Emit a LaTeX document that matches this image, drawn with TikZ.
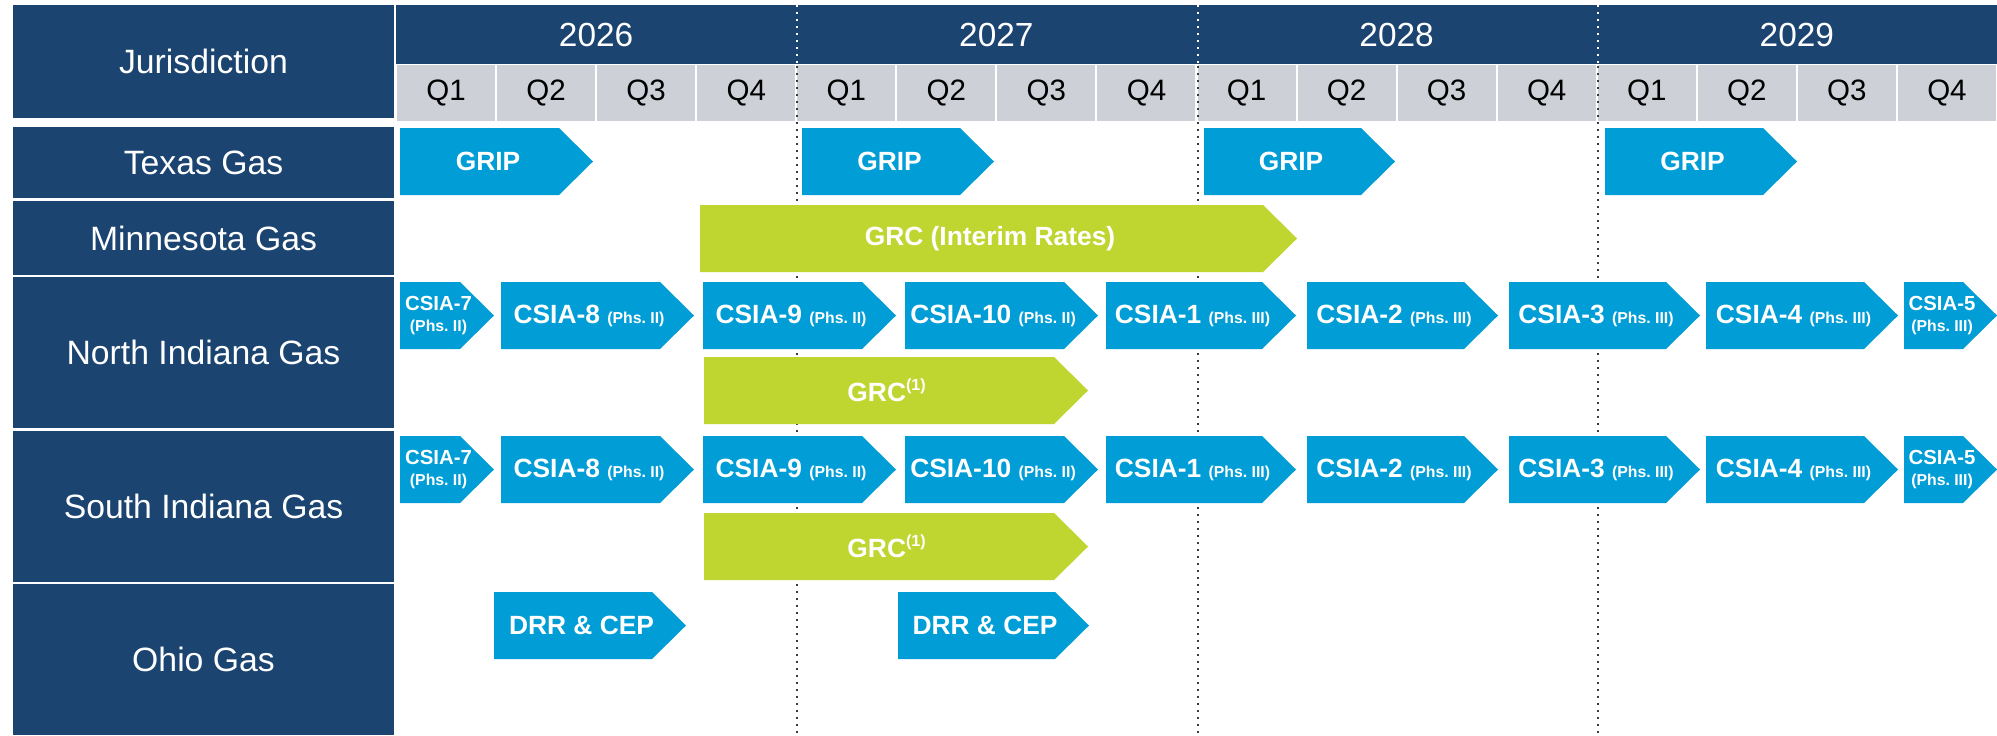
\documentclass[tikz,border=0pt]{standalone}
\usepackage{fontspec}
\setmainfont{Liberation Sans}
\definecolor{navyhead}{HTML}{1B4471}
\definecolor{barblue}{HTML}{009DD6}
\definecolor{bargreen}{HTML}{BFD630}
\definecolor{qgrey}{HTML}{CDD0D7}
\definecolor{divgrey}{HTML}{3C3C3C}
\newcommand{\phs}[1]{{\fontsize{4.5}{5}\selectfont(Phs.~#1)}}
\newcommand{\smlbl}{\fontsize{5.8}{6}\selectfont}
% name, colour, left x, tip x, top y, bottom y, label
\newcommand{\phasebar}[7]{%
  \fill[#2] (#3,#5) -- ({#4-34},#5) -- (#4,{(#5+#6)/2}) -- ({#4-34},#6) -- (#3,#6) -- cycle;
  \node[bartext] (#1) at ({(#3+#4-17)/2},{(#5+#6)/2}) {#7};}

\begin{document}
\begin{tikzpicture}[x=0.1mm, y=-0.1mm,
    rowhead/.style={fill=navyhead, text=white, minimum width=38.1mm, inner sep=0,
                    font=\fontsize{9.6}{11}\selectfont},
    yeartext/.style={text=white, inner sep=0, font=\fontsize{9.5}{11}\selectfont},
    qcell/.style={fill=qgrey, minimum width=9.8mm, minimum height=5.6mm, inner sep=0,
                  font=\fontsize{8.4}{10}\selectfont},
    bartext/.style={text=white, align=center, inner sep=0,
                    font=\bfseries\fontsize{7.5}{9}\selectfont},
    yeardiv/.style={divgrey, line width=0.2mm, dash pattern=on 0.2mm off 0.5mm}]
  \useasboundingbox[fill=white] (0,0) rectangle (1997,735);

  % jurisdiction column
  \node[rowhead, minimum height=11.3mm] (jur) at (203.5,61.5) {Jurisdiction};
  \node[rowhead, minimum height=7.1mm] (texas) at (203.5,162.5) {Texas Gas};
  \node[rowhead, minimum height=7.4mm] (minn) at (203.5,238) {Minnesota Gas};
  \node[rowhead, minimum height=15.1mm] (nind) at (203.5,352.5) {North Indiana Gas};
  \node[rowhead, minimum height=15.1mm] (sind) at (203.5,506.5) {South Indiana Gas};
  \node[rowhead, minimum height=15.1mm] (ohio) at (203.5,659.5) {Ohio Gas};

  % years and quarters
  \fill[navyhead] (396,5) rectangle (1997,64);
  \foreach \yr [count=\i from 0] in {2026,2027,2028,2029}
    \node[yeartext] (y\yr) at ({396+(4*\i+2)*100.06},35) {\yr};
  \foreach \k in {0,...,15} {
    \pgfmathtruncatemacro\qn{mod(\k,4)+1}
    \node[qcell] (q\k) at ({396+(\k+0.5)*100.06},93) {Q\qn};
  }
  \foreach \x in {797,1198,1598} {
    \draw[yeardiv, white] (\x,5) -- (\x,64);
    \draw[yeardiv] (\x,66) -- (\x,735);
  }

  % Texas
  \phasebar{gripA}{barblue}{400}{593}{128}{195}{GRIP}
  \phasebar{gripB}{barblue}{802}{994}{128}{195}{GRIP}
  \phasebar{gripC}{barblue}{1204}{1395}{128}{195}{GRIP}
  \phasebar{gripD}{barblue}{1605}{1797}{128}{195}{GRIP}
  % Minnesota
  \phasebar{grcmn}{bargreen}{700}{1297}{205}{272}{GRC (Interim Rates)}
  % North Indiana
  \phasebar{ncsiaA}{barblue}{400}{494}{282}{349}{\smlbl CSIA-7\\[-3pt]\phs{II}}
  \phasebar{ncsiaB}{barblue}{501}{694}{282}{349}{CSIA-8 \phs{II}}
  \phasebar{ncsiaC}{barblue}{703}{896}{282}{349}{CSIA-9 \phs{II}}
  \phasebar{ncsiaD}{barblue}{905}{1098}{282}{349}{CSIA-10 \phs{II}}
  \phasebar{ncsiaE}{barblue}{1106}{1296}{282}{349}{CSIA-1 \phs{III}}
  \phasebar{ncsiaF}{barblue}{1307}{1498}{282}{349}{CSIA-2 \phs{III}}
  \phasebar{ncsiaG}{barblue}{1509}{1700}{282}{349}{CSIA-3 \phs{III}}
  \phasebar{ncsiaH}{barblue}{1706}{1898}{282}{349}{CSIA-4 \phs{III}}
  \phasebar{ncsiaI}{barblue}{1904}{1997}{282}{349}{\smlbl CSIA-5\\[-3pt]\phs{III}}
  \phasebar{ngrc}{bargreen}{704}{1088}{357}{424}{GRC\textsuperscript{\fontsize{4.6}{5}\selectfont(1)}}
  % South Indiana
  \phasebar{scsiaA}{barblue}{400}{494}{436}{503}{\smlbl CSIA-7\\[-3pt]\phs{II}}
  \phasebar{scsiaB}{barblue}{501}{694}{436}{503}{CSIA-8 \phs{II}}
  \phasebar{scsiaC}{barblue}{703}{896}{436}{503}{CSIA-9 \phs{II}}
  \phasebar{scsiaD}{barblue}{905}{1098}{436}{503}{CSIA-10 \phs{II}}
  \phasebar{scsiaE}{barblue}{1106}{1296}{436}{503}{CSIA-1 \phs{III}}
  \phasebar{scsiaF}{barblue}{1307}{1498}{436}{503}{CSIA-2 \phs{III}}
  \phasebar{scsiaG}{barblue}{1509}{1700}{436}{503}{CSIA-3 \phs{III}}
  \phasebar{scsiaH}{barblue}{1706}{1898}{436}{503}{CSIA-4 \phs{III}}
  \phasebar{scsiaI}{barblue}{1904}{1997}{436}{503}{\smlbl CSIA-5\\[-3pt]\phs{III}}
  \phasebar{sgrc}{bargreen}{704}{1088}{513}{580}{GRC\textsuperscript{\fontsize{4.6}{5}\selectfont(1)}}
  % Ohio
  \phasebar{drrA}{barblue}{494}{686}{592}{659}{DRR \& CEP}
  \phasebar{drrB}{barblue}{898}{1089}{592}{659}{DRR \& CEP}
\end{tikzpicture}
\end{document}
